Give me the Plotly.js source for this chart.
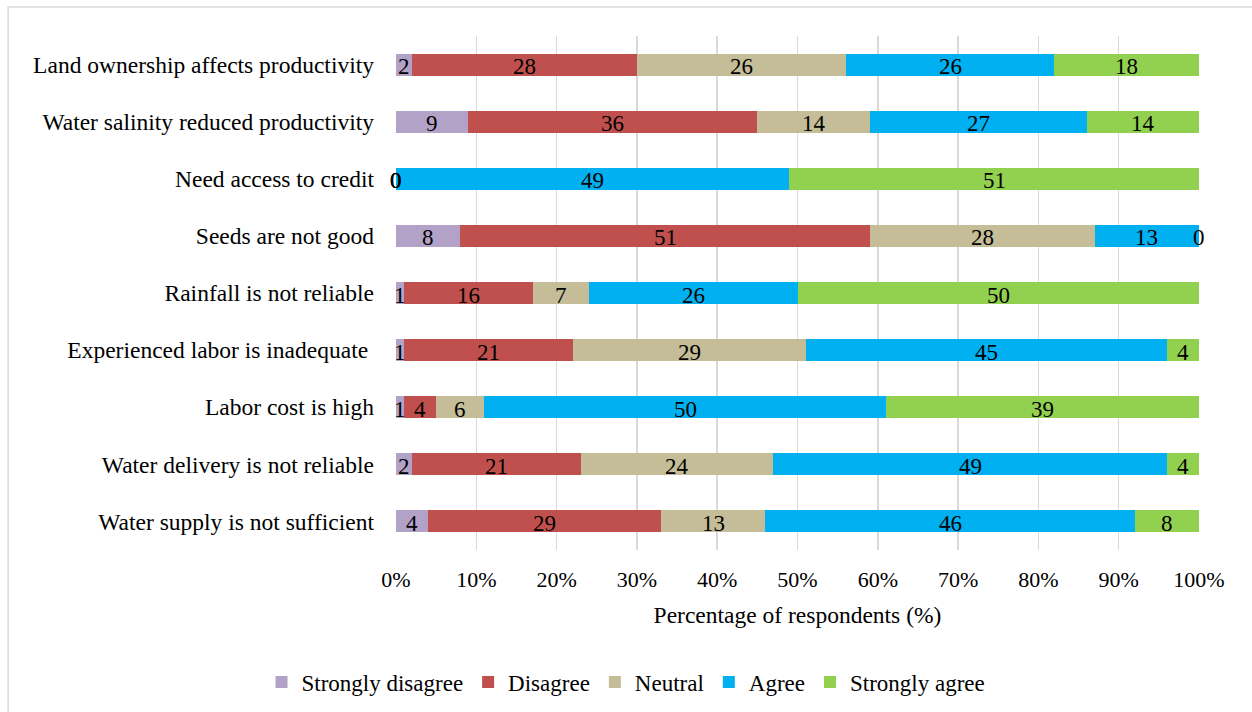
<!DOCTYPE html>
<html>
<head>
<meta charset="utf-8">
<script src="https://cdn.plot.ly/plotly-3.0.1.min.js"></script>
<style>
html,body{margin:0;padding:0;background:#fff;}
#chart{width:1252px;height:712px;}
</style>
</head>
<body>
<div id="chart"></div>
<script>
const categories = [
  "Water supply is not sufficient",
  "Water delivery is not reliable",
  "Labor cost is high",
  "Experienced labor is inadequate ",
  "Rainfall is not reliable",
  "Seeds are not good",
  "Need access to credit",
  "Water salinity reduced productivity",
  "Land ownership affects productivity"
];
const seriesNames = ["Strongly disagree", "Disagree", "Neutral", "Agree", "Strongly agree"];
const stronglyDisagree = [4, 2, 1, 1, 1, 8, 0, 9, 2];
const disagree         = [29, 21, 4, 21, 16, 51, 0, 36, 28];
const neutral          = [13, 24, 6, 29, 7, 28, 0, 14, 26];
const agree            = [46, 49, 50, 45, 26, 13, 49, 27, 26];
const stronglyAgree    = [8, 4, 39, 4, 50, 0, 51, 14, 18];
const colors = ["#B3A2C7", "#C0504D", "#C4BD97", "#00B0F0", "#92D050"];
const xTickVals = [0,10,20,30,40,50,60,70,80,90,100];
const xTickText = ["0%","10%","20%","30%","40%","50%","60%","70%","80%","90%","100%"];

const series = [stronglyDisagree, disagree, neutral, agree, stronglyAgree];
const FONT = "Liberation Serif, Times New Roman, serif";

const traces = series.map((vals, i) => ({
  type: "bar",
  orientation: "h",
  name: seriesNames[i],
  y: categories,
  x: vals,
  marker: {color: colors[i]},
  textposition: "none",
  hoverinfo: "x+name"
}));

// data labels at segment midpoints, derived from the data
const annotations = [];
const cum = categories.map(() => 0);
series.forEach(vals => {
  vals.forEach((v, j) => {
    annotations.push({
      x: cum[j] + v / 2, y: categories[j], xref: "x", yref: "y",
      text: String(v), showarrow: false,
      font: {family: FONT, size: 23, color: "#000"},
      xanchor: "center", yanchor: "middle", yshift: -2
    });
    cum[j] += v;
  });
});

const layout = {
  width: 1252, height: 712,
  margin: {l: 396, r: 53, t: 36, b: 162, pad: 0},
  barmode: "stack",
  bargap: 0.615,
  paper_bgcolor: "#fff",
  plot_bgcolor: "#fff",
  font: {family: FONT, size: 23, color: "#000"},
  xaxis: {
    range: [0, 100],
    tickvals: xTickVals,
    ticktext: xTickText,
    showgrid: true,
    gridcolor: "#D9D9D9",
    gridwidth: 1.5,
    zeroline: false,
    showline: false,
    ticks: "",
    ticklabelstandoff: 14,
    tickfont: {family: FONT, size: 22, color: "#000"},
    title: {text: "Percentage of respondents (%)", font: {family: FONT, size: 23.5, color: "#000"}, standoff: 15},
    fixedrange: true
  },
  yaxis: {
    type: "category",
    categoryorder: "array",
    categoryarray: categories,
    showgrid: false,
    zeroline: false,
    showline: false,
    ticks: "",
    ticklabelstandoff: 21,
    tickfont: {family: FONT, size: 23.5, color: "#000"},
    fixedrange: true
  },
  legend: {
    orientation: "h",
    x: 0.5, xref: "container", xanchor: "center",
    y: 0.042, yref: "container", yanchor: "middle",
    font: {family: FONT, size: 23, color: "#000"},
    traceorder: "normal",
    itemwidth: 30,
    bgcolor: "rgba(0,0,0,0)"
  },
  annotations: annotations,
  shapes: [{
    type: "rect", xref: "paper", yref: "paper",
    x0: -0.483, x1: 1.08, y0: -0.34, y1: 1.0564,
    line: {color: "#D9D9D9", width: 1.5},
    fillcolor: "rgba(0,0,0,0)",
    layer: "below"
  }],
  showlegend: true
};

Plotly.newPlot("chart", traces, layout, {displayModeBar: false, staticPlot: true});
</script>
</body>
</html>
